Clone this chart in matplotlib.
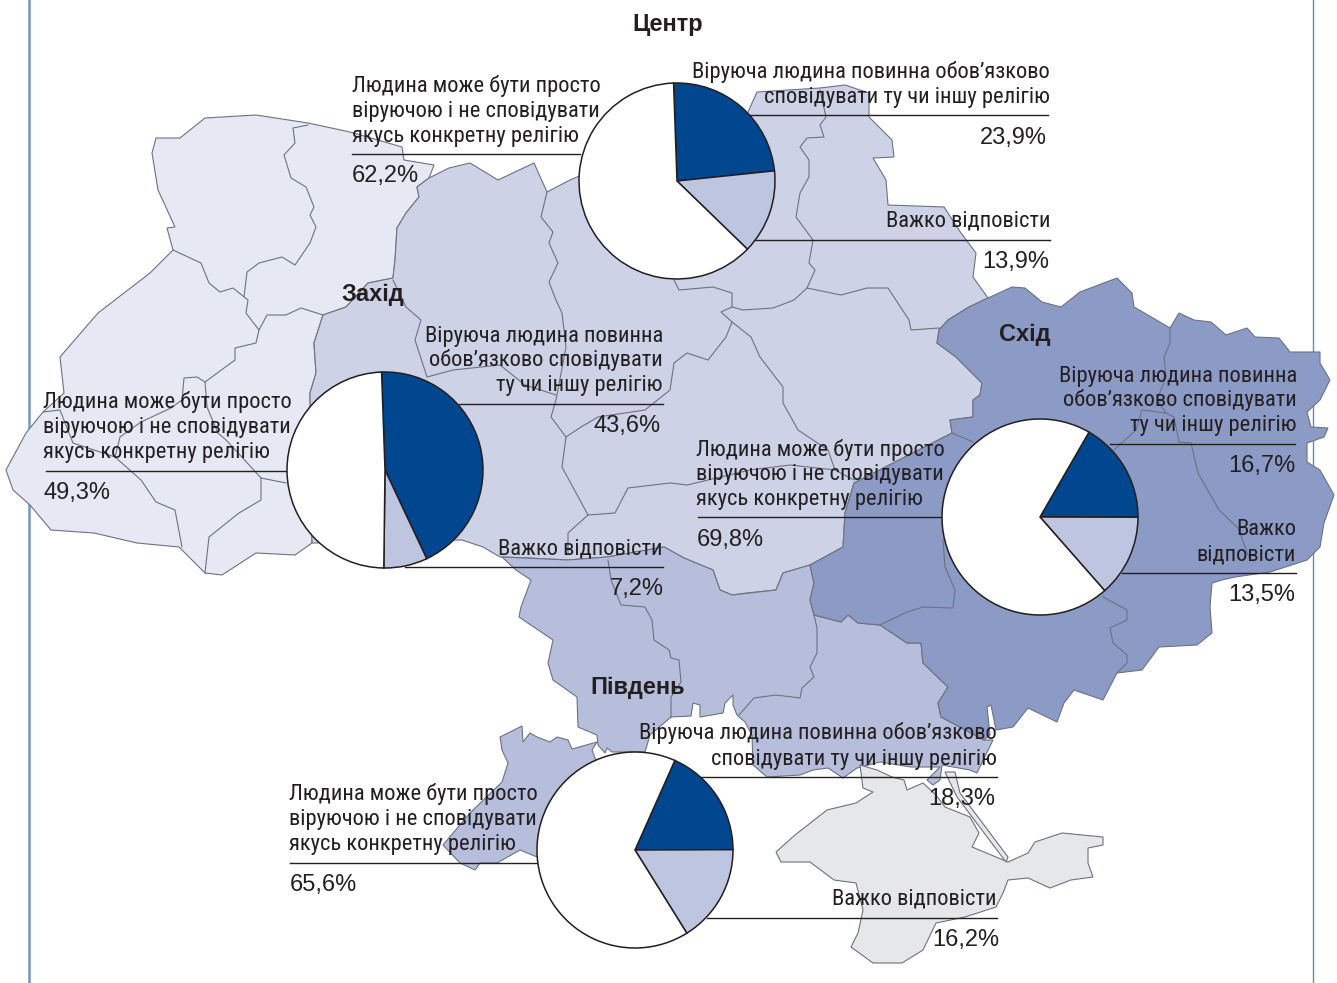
# -*- coding: utf-8 -*-
import matplotlib
matplotlib.use('Agg')
import matplotlib.pyplot as plt
from matplotlib.patches import Polygon

regions = ['Центр', 'Захід', 'Схід', 'Південь']
must_follow = [23.9, 43.6, 16.7, 18.3]
hard_to_say = [13.9, 7.2, 13.5, 16.2]
just_believer = [62.2, 49.3, 69.8, 65.6]

txt_believer = ['Людина може бути просто', 'віруючою і не сповідувати', 'якусь конкретну релігію']
txt_follow_2 = ['Віруюча людина повинна обов’язково', 'сповідувати ту чи іншу релігію']
txt_follow_3 = ['Віруюча людина повинна', 'обов’язково сповідувати', 'ту чи іншу релігію']
txt_hard = ['Важко відповісти']
txt_hard_2 = ['Важко', 'відповісти']

# map outlines in pixels
west = [(156,138),(180,138),(205,118),(256,115),(308,123),(350,132),(402,147),(404,160),(434,165),(429,178),
        (417,187),(419,197),(406,213),(397,228),(395,260),(393,278),(368,283),(346,307),(323,315),(314,343),
        (316,373),(310,393),(312,543),(295,555),(256,553),(222,575),(205,573),(179,547),(137,543),(94,533),
        (51,530),(30,505),(13,490),(6,470),(26,433),(43,412),(64,393),(60,357),(98,313),(150,273),(173,250),
        (167,228),(175,227),(158,190),(152,153)]
centre = [(429,178),(449,168),(470,163),(498,180),(534,163),(547,192),(570,180),(640,150),(735,135),(748,112),
          (757,92),(820,88),(845,85),(869,93),(869,117),(892,140),(894,157),(873,158),(886,180),(888,205),(944,207),
          (961,233),(976,253),(973,277),(988,298),(969,307),(948,320),(939,330),(937,343),(956,357),(982,383),(980,395),
          (973,400),(973,417),(950,420),(952,433),(905,457),(854,483),(845,513),(843,547),(810,565),(783,573),
          (776,590),(747,593),(732,595),(720,590),(713,570),(684,558),(664,547),(607,557),(568,560),(530,558),
          (500,557),(483,547),(462,540),(312,543),(310,393),(316,373),(314,343),(323,315),(346,307),(368,283),
          (393,278),(395,260),(397,228),(406,213),(419,197),(417,187)]
south = [(502,557),(516,570),(531,580),(521,607),(519,617),(553,640),(548,663),(553,680),(577,697),(578,727),
         (597,735),(598,745),(605,753),(607,748),(612,752),(645,752),(650,735),(671,717),(691,716),(693,703),(700,705),
         (700,717),(723,713),(725,703),(733,695),(733,705),(737,715),(745,722),(752,735),(753,765),(767,777),(800,775),
         (813,770),(828,768),(843,778),(857,768),(880,762),(911,767),(940,767),(927,780),(933,785),(940,780),(942,765),
         (970,770),(977,773),(993,740),(984,740),(941,717),(938,703),(948,687),(923,663),(921,643),(907,643),(880,625),
         (858,623),(848,615),(841,622),(814,615),(810,600),(814,583),(810,565),(783,573),(776,590),(732,595),(720,590),
         (713,570),(684,558),(664,547),(607,557),(568,560)]
bessarabia = [(500,737),(522,726),(523,742),(530,733),(537,737),(550,742),(557,737),(568,740),(572,749),(597,742),
              (592,750),(595,758),(620,800),(537,857),(520,850),(497,863),(480,863),(475,870),(460,863),(443,845),
              (470,813),(502,782),(508,763),(502,750)]
east = [(988,298),(1012,287),(1025,288),(1042,302),(1061,307),(1080,292),(1117,278),(1132,293),(1134,307),(1153,318),
        (1170,328),(1179,313),(1194,320),(1211,322),(1226,335),(1247,328),(1255,337),(1279,338),(1290,352),(1320,352),
        (1320,363),(1330,380),(1320,400),(1307,412),(1311,427),(1328,428),(1324,437),(1307,443),(1307,462),(1320,470),
        (1334,495),(1324,523),(1320,547),(1307,560),(1270,572),(1235,577),(1222,580),(1212,583),(1210,607),(1212,633),
        (1197,645),(1159,647),(1142,670),(1117,673),(1103,700),(1074,690),(1064,703),(1057,722),(1028,708),(1013,727),
        (996,730),(991,705),(987,707),(990,735),(984,740),(941,717),(938,703),(948,687),(923,663),(921,643),(907,643),
        (880,625),(858,623),(848,615),(841,622),(814,615),(810,600),(814,583),(810,565),(843,547),(845,513),(854,483),
        (905,457),(952,433),(950,420),(973,417),(973,400),(980,395),(982,383),(956,357),(937,343),(939,330),(948,320),
        (969,307)]
crimea = [(860,765),(877,770),(892,777),(904,780),(907,790),(923,783),(936,795),(945,807),(970,817),(979,833),
          (972,847),(1008,862),(1028,853),(1035,842),(1062,833),(1103,837),(1103,845),(1088,848),(1088,863),(1093,877),
          (1071,880),(1050,888),(1028,878),(1008,880),(1003,893),(996,907),(965,917),(936,923),(923,950),(902,963),
          (873,963),(851,947),(858,933),(863,910),(856,883),(834,880),(810,862),(781,862),(776,852),(795,835),
          (827,810),(856,803),(873,792),(863,788)]
arabat = [(945,772),(955,772),(960,793),(1008,857),(1006,862),(957,797)]

borders = [
    [(308,125),(293,128),(295,143),(284,155),(291,178),(306,187),(314,207),(310,215),(316,227),(310,243),(295,265),
     (282,257),(259,263),(247,272),(244,297)],
    [(173,250),(201,263),(209,283),(220,292),(233,288),(248,300),(246,313),(259,330),(256,343),(235,348),(235,360),
     (205,382),(207,407),(218,433),(226,440),(240,455),(261,478),(261,500),(239,513),(209,537),(205,573)],
    [(259,330),(267,315),(286,315),(301,308),(323,315)],
    [(205,382),(197,377),(184,378),(182,400),(171,408),(141,422),(120,437),(115,457),(141,480),(156,502),(175,510),(182,547)],
    [(43,412),(60,410),(73,443),(103,453),(115,457)],
    [(261,478),(286,483)],
    [(547,192),(541,217),(553,232),(549,243),(558,263),(549,282),(556,300),(562,313),(566,347),(556,400),(551,417),
     (566,437),(562,467),(588,515),(568,533),(568,553)],
    [(393,280),(406,307),(421,320),(415,340),(427,377),(453,370),(500,365),(525,385),(556,395)],
    [(732,322),(726,337),(708,360),(687,353),(674,363),(670,390),(645,410),(598,417),(581,427),(566,437)],
    [(588,515),(615,513),(628,488),(670,483),(687,485),(750,470),(790,465),(835,470)],
    [(674,280),(679,290),(713,287),(732,293),(732,307),(721,312),(732,322),(751,337),(760,357),(783,387),(783,403),
     (798,430),(828,450),(835,470),(854,480)],
    [(732,307),(743,310),(773,308),(794,300),(807,288),(815,270),(809,263),(813,240),(796,217),(800,193),(809,177),
     (809,160),(800,147),(807,138),(824,137),(820,125),(826,117),(820,90)],
    [(807,288),(841,295),(867,288),(888,288),(909,320),(911,330),(939,328)],
    [(814,615),(817,628),(817,653),(810,667),(814,677),(802,688),(800,698),(776,695),(754,698),(739,715)],
    [(608,560),(611,580),(621,605),(645,607),(652,620),(654,640),(669,650),(671,658),(679,660),(681,682),(671,697),(671,717)],
    [(1170,328),(1170,343),(1164,357),(1166,377),(1157,400),(1166,413),(1142,410),(1136,430),(1114,450)],
    [(1166,413),(1174,417),(1179,442),(1191,443),(1198,473),(1219,510),(1238,528),(1250,560)],
    [(1103,597),(1127,610),(1127,620),(1110,628),(1113,643),(1127,655),(1127,663),(1117,673)],
    [(880,625),(907,612),(923,607),(953,608),(955,590),(945,567),(943,540)],
    [(952,433),(973,442)],
]

fig = plt.figure(figsize=(13.37, 9.83), dpi=100)
ax = fig.add_axes([0, 0, 1, 1])

ink = '#231f20'
edge = '#6d7280'
sans = ['Liberation Sans', 'DejaVu Sans']
narrow = ['Roboto Condensed', 'Liberation Sans', 'DejaVu Sans']


def rule(y, x0, x1):
    ax.plot([x0, x1], [y, y], color=ink, lw=1.0, zorder=3)


def note(x, ys, lines, ha):
    for y, s in zip(ys, lines):
        ax.text(x, y, s, ha=ha, va='baseline', family=narrow, fontsize=16.2, color=ink, zorder=6)


def pct(x, y, v, ha):
    ax.text(x, y, f'{v:.1f}%'.replace('.', ','), ha=ha, va='baseline', family=sans, fontsize=17, color=ink, zorder=6)


ax.plot([29, 29], [0, 983], color='#6f9ac8', lw=1.8, zorder=1)
ax.plot([1313, 1313], [0, 983], color='#5b8fc6', lw=1.0, zorder=1)

for pts, col in [(west, '#e6e9f3'), (centre, '#cdd2e7'), (bessarabia, '#b6bedc'), (south, '#b6bedc'),
                 (east, '#8c9ac6'), (crimea, '#e6e7e9'), (arabat, '#e6e7e9')]:
    ax.add_patch(Polygon(pts, closed=True, fc=col, ec=edge, lw=0.8, zorder=2))
for b in borders:
    ax.plot([p[0] for p in b], [p[1] for p in b], color=edge, lw=0.8, zorder=2)

# pies, the y axis is flipped so angles run clockwise on screen
centres = [(677, 181), (385, 470), (1040, 517), (635, 850)]
starts = [-92, -92, -60, -66]
for i in range(4):
    ax.pie([must_follow[i], hard_to_say[i], just_believer[i]], colors=['#00478f', '#bdc5e0', 'white'],
           center=centres[i], radius=98, startangle=starts[i], counterclock=True,
           wedgeprops=dict(edgecolor=ink, linewidth=1.1, zorder=4))

# Центр
note(352, [92, 117, 142], txt_believer, 'left')
rule(154, 352, 580)
pct(352, 182, just_believer[0], 'left')
note(1050, [78, 103], txt_follow_2, 'right')
rule(115, 750, 1048)
pct(1047, 144, must_follow[0], 'right')
note(1050, [227], txt_hard, 'right')
rule(240, 750, 1050)
pct(1049, 268, hard_to_say[0], 'right')

# Захід
note(43, [408, 433, 458], txt_believer, 'left')
rule(471, 46, 288)
pct(43, 499, just_believer[1], 'left')
note(663, [342, 366, 391], txt_follow_3, 'right')
rule(404, 459, 663)
pct(661, 432, must_follow[1], 'right')
note(663, [554], txt_hard, 'right')
rule(567, 405, 663)
pct(664, 595, hard_to_say[1], 'right')

# Схід
note(696, [456, 480, 505], txt_believer, 'left')
rule(517, 698, 942)
pct(697, 546, just_believer[2], 'left')
note(1297, [382, 406, 431], txt_follow_3, 'right')
rule(444, 1110, 1295)
pct(1295, 472, must_follow[2], 'right')
note(1296, [535, 560], txt_hard_2, 'right')
rule(573, 1122, 1296)
pct(1295, 601, hard_to_say[2], 'right')

# Південь
note(289, [800, 825, 850], txt_believer, 'left')
rule(863, 290, 537)
pct(290, 891, just_believer[3], 'left')
note(997, [739, 765], txt_follow_2, 'right')
rule(777, 700, 997)
pct(995, 805, must_follow[3], 'right')
note(997, [905], txt_hard, 'right')
rule(918, 707, 997)
pct(999, 946, hard_to_say[3], 'right')

for name, x, y in zip(regions, [668, 373, 1025, 638], [31, 301, 341, 694]):
    ax.text(x, y, name, ha='center', va='baseline', family=sans, fontweight='bold', fontsize=17, color=ink, zorder=6)

ax.set_xlim(0, 1337)
ax.set_ylim(983, 0)
ax.set_aspect('auto')
ax.axis('off')
fig.savefig('out.png', dpi=100, facecolor='white')
